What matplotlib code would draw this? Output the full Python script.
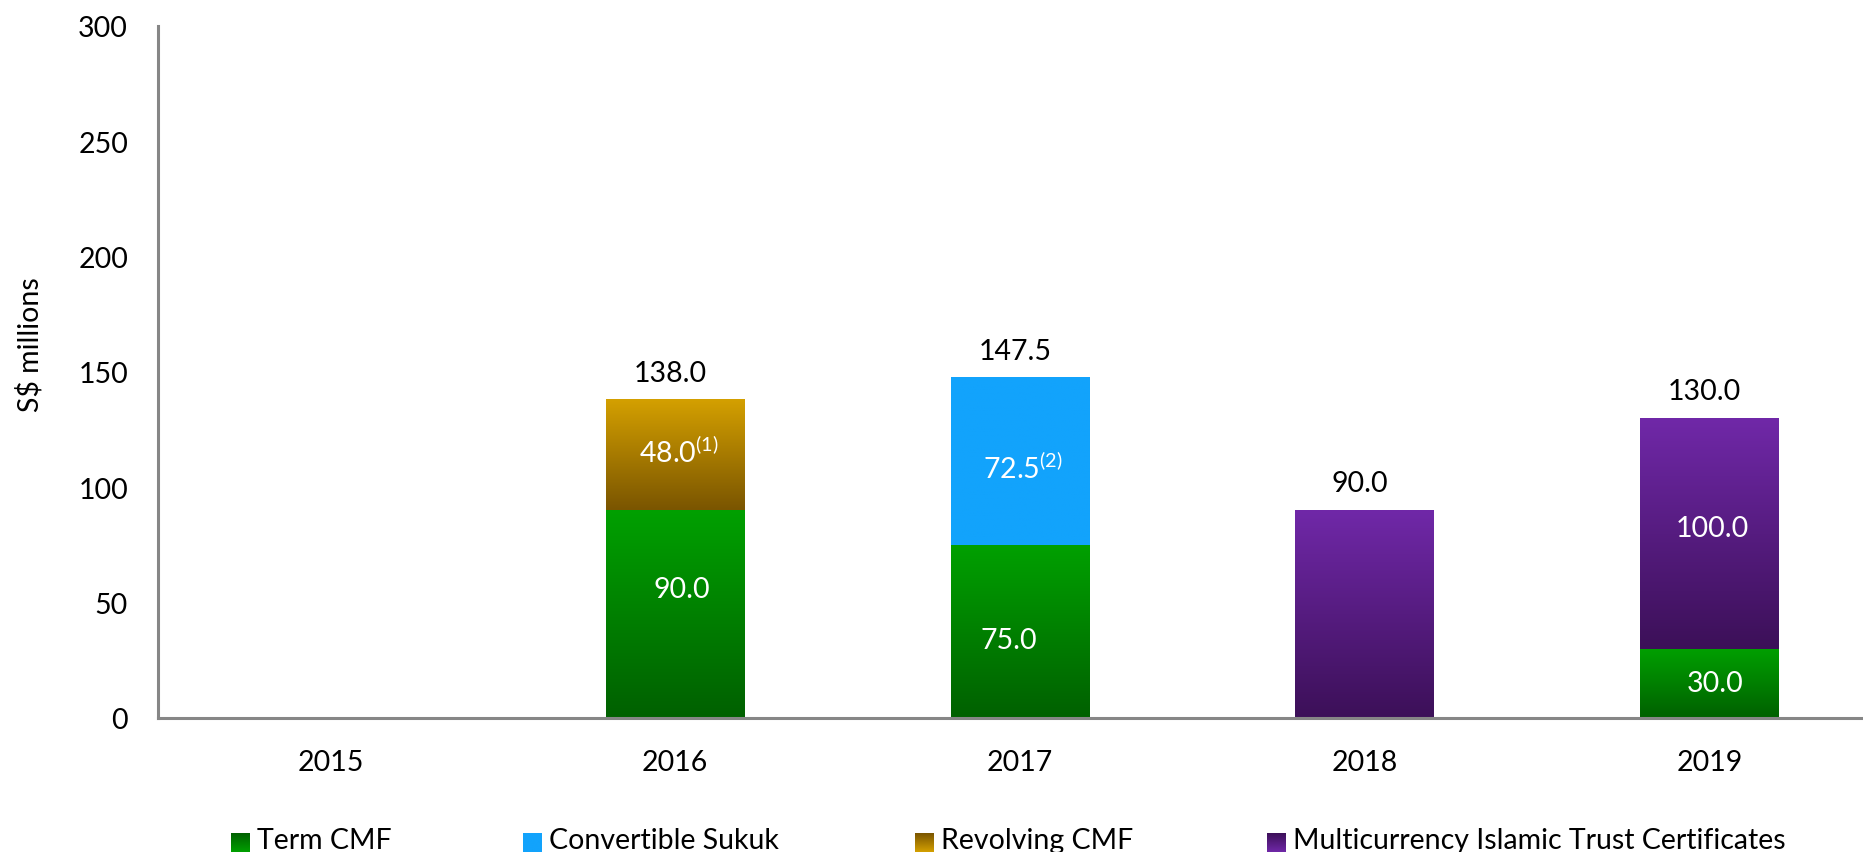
import numpy as np
import matplotlib
matplotlib.use("Agg")
import matplotlib.pyplot as plt
from matplotlib.colors import LinearSegmentedColormap

# ---------------- data ----------------
years = ['2015', '2016', '2017', '2018', '2019']
term_cmf = [0, 90.0, 75.0, 0, 30.0]
convertible_sukuk = [0, 0, 72.5, 0, 0]
revolving_cmf = [0, 48.0, 0, 0, 0]
multicurrency_itc = [0, 0, 0, 90.0, 100.0]
series_names = ['Term CMF', 'Convertible Sukuk', 'Revolving CMF',
                'Multicurrency Islamic Trust Certificates']
footnotes = {(1, 2): '(1)', (2, 1): '(2)'}  # (year index, series index)
y_ticks = [0, 50, 100, 150, 200, 250, 300]

# ---------------- style ----------------
FONT = 'Lato'
plt.rcParams['font.family'] = [FONT, 'DejaVu Sans']
plt.rcParams['mathtext.fontset'] = 'custom'
plt.rcParams['mathtext.rm'] = FONT
FS = 20.5
gradients = [('#006000', '#00A000'),   # bottom, top
             ('#12A3FC', '#12A3FC'),
             ('#7A5500', '#D4A000'),
             ('#3C1058', '#7028A8')]
AXC = '#868686'

W, H = 1863, 853
fig = plt.figure(figsize=(W / 100, H / 100), dpi=100)
ax = fig.add_axes([158 / W, 1 - 719 / H, (1882 - 158) / W, (719 - 27) / H])

x = np.arange(len(years))
bw = 0.403
series = [term_cmf, convertible_sukuk, revolving_cmf, multicurrency_itc]
grad = np.linspace(0, 1, 256).reshape(-1, 1)

# pixel nudges for inside labels (dx, dy) keyed by (year index, series index)
nudge = {(1, 0): (7, 25), (1, 2): (4, 4), (2, 0): (-11, -9),
         (2, 1): (3, -6), (4, 3): (3, 5), (4, 0): (6, 0)}

bottom = np.zeros(len(years))
for si, vals in enumerate(series):
    vals = np.array(vals, dtype=float)
    bars = ax.bar(x, vals, bw, bottom=bottom, facecolor='none',
                  edgecolor='none', linewidth=0, zorder=2)
    cmap = LinearSegmentedColormap.from_list('g%d' % si, list(gradients[si]))
    for i, (b, v) in enumerate(zip(bars, vals)):
        if v <= 0:
            continue
        x0, y0 = b.get_x(), b.get_y()
        ax.imshow(grad, cmap=cmap, origin='lower', aspect='auto',
                  extent=(x0, x0 + b.get_width(), y0, y0 + v),
                  interpolation='bilinear', zorder=2)
    bottom += vals

# inside labels (only for multi-segment bars)
bottom = np.zeros(len(years))
nseg = np.sum([np.array(s) > 0 for s in series], axis=0)
for si, vals in enumerate(series):
    for i, v in enumerate(vals):
        if v > 0 and nseg[i] > 1:
            txt = f'{v:.1f}'
            if (i, si) in footnotes:
                txt += r'$^{\mathregular{' + footnotes[(i, si)] + '}}$'
            dx, dy = nudge.get((i, si), (0, 0))
            ax.annotate(txt, (x[i], bottom[i] + v / 2), xytext=(dx * 0.72, dy * 0.72),
                        textcoords='offset points', ha='center', va='center',
                        color='white', fontsize=FS, zorder=5)
    bottom += np.array(vals, dtype=float)

totals = bottom
for i, t in enumerate(totals):
    if t > 0:
        ax.annotate(f'{t:.1f}', (x[i], t), xytext=(-5 * 0.72, 27 * 0.72),
                    textcoords='offset points', ha='center', va='center',
                    color='black', fontsize=FS)

ax.set_xlim(-0.5, len(years) - 0.5)
ax.set_ylim(0, 300)
ax.set_yticks(y_ticks)
ax.set_yticklabels([str(t) for t in y_ticks], fontsize=FS)
ax.set_xticks(x)
ax.set_xticklabels(years, fontsize=FS)
ax.tick_params(axis='both', length=0)
ax.tick_params(axis='y', pad=30 * 0.72)
ax.tick_params(axis='x', pad=31 * 0.72)
for s in ['top', 'right']:
    ax.spines[s].set_visible(False)
for s in ['left', 'bottom']:
    ax.spines[s].set_color(AXC)
    ax.spines[s].set_linewidth(2.2)
    ax.spines[s].set_zorder(3)

fig.text(30 / W, 1 - 345 / H, 'S$ millions', rotation=90, ha='center',
         va='center', fontsize=FS)

# legend (custom, placed in pixel coordinates)
lax = fig.add_axes([0, 0, 1, 1], facecolor='none')
lax.set_xlim(0, W)
lax.set_ylim(H, 0)
lax.axis('off')
leg_x = [231, 523, 915, 1267]
for si, name in enumerate(series_names):
    cmap = LinearSegmentedColormap.from_list('l%d' % si, list(gradients[si]))
    lx = leg_x[si]
    lax.imshow(grad, cmap=cmap, origin='upper', aspect='auto',
               extent=(lx, lx + 19, 853, 834), interpolation='bilinear')
    lax.text(lx + 26, 849, name, ha='left', va='baseline', fontsize=FS)
lax.set_xlim(0, W)
lax.set_ylim(H, 0)

fig.savefig('out.png', dpi=100)
